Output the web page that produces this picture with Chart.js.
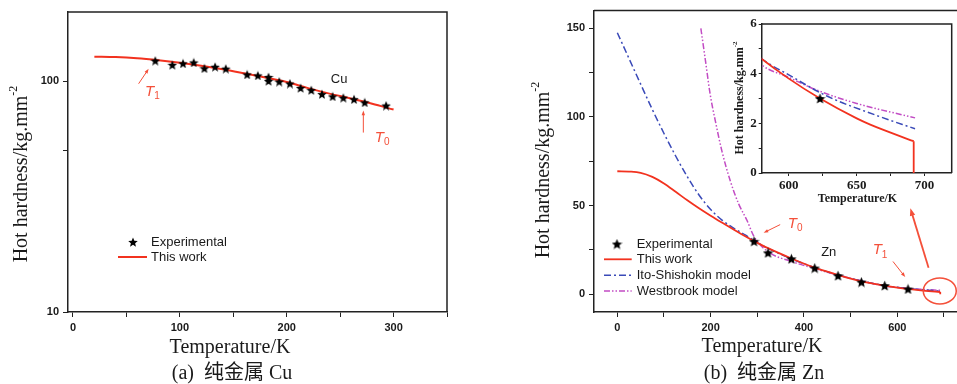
<!DOCTYPE html>
<html lang="en">
<head>
<meta charset="UTF-8" />
<title>Hot hardness of pure Cu and Zn</title>
<script src="https://cdn.jsdelivr.net/npm/chart.js@4.4.1/dist/chart.umd.min.js"></script>
<style>
  html, body { margin: 0; padding: 0; background: #fff; overflow: hidden; width: 957px; height: 384px; }
  canvas { position: absolute; }
  #cuChart { left: 0; top: 0; }
  #znChart { left: 480px; top: 0; }
  #insetChart { left: 725px; top: 14px; }
</style>
</head>
<body>
<canvas id="cuChart" width="480" height="384"></canvas>
<canvas id="znChart" width="500" height="384"></canvas>
<canvas id="insetChart" width="232" height="200"></canvas>
<script>
// ---- panel (a): pure Cu ----
const cuExpT = [77, 93, 103, 113, 123, 133, 143, 163, 173, 183, 183, 193, 203, 213, 223, 233, 243, 253, 263, 273, 293];
const cuExpH = [123, 118, 119.7, 120.8, 114, 115.7, 113.6, 107.2, 106.1, 104.5, 100.5, 99.8, 97.9, 93.7, 91.7, 88.1, 86.1, 85, 83.7, 81.1, 78.6];
const cuModelT = [20, 40, 60, 80, 100, 120, 140, 160, 180, 200, 220, 240, 260, 280, 300];
const cuModelH = [128, 127.5, 126, 123.5, 120.5, 117, 113, 108.5, 104, 99.5, 93.5, 88.5, 84.3, 80, 75.5];
const cuXTicks = [0, 50, 100, 150, 200, 250, 300, 350];
const cuYTicks = [10, 50, 100];

// ---- panel (b): pure Zn ----
const znExpT = [293, 323, 373, 423, 473, 523, 573, 623];
const znExpH = [29.9, 23.4, 20, 14.8, 10.5, 6.9, 4.9, 3.0];
// "This work" curve; the last two points are the vertical drop at melting
const znModelT = [0, 25, 50, 75, 100, 125, 150, 175, 200, 225, 250, 275, 293, 323, 373, 423, 473, 523, 573, 600, 623, 650, 660, 692, 692];
const znModelH = [69.4, 69.2, 68.5, 66.2, 62.5, 57.8, 53, 48.5, 44.3, 40.3, 36.4, 32.6, 30, 26, 20.2, 15, 10.9, 7.3, 4.9, 3.8, 3.0, 2.2, 1.95, 1.28, 0];
const itoT = [0, 25, 50, 75, 100, 125, 150, 175, 200, 225, 250, 275, 293, 323, 373, 423, 473, 523, 580, 600, 628, 665, 693];
const itoH = [147.5, 133, 118.5, 104.2, 90.7, 78, 66.3, 56, 47.8, 41.7, 37.2, 33.3, 30.3, 25.9, 20, 15, 10.9, 7.5, 4.6, 3.95, 3.1, 2.31, 1.78];
const westT = [179, 189, 199, 210, 224, 242, 260, 278, 293, 323, 373, 423, 473, 523, 580, 600, 620, 650, 693];
const westH = [150, 131.5, 112.7, 97.8, 80.9, 64, 51, 41.6, 32.5, 24, 18.5, 14.5, 10.8, 7.6, 4.35, 3.85, 3.35, 2.8, 2.22];
const znXTicks = [0, 100, 200, 300, 400, 500, 600, 700];
const znYTicks = [0, 25, 50, 75, 100, 125, 150];
const insetXTicks = [600, 625, 650, 675, 700];
const insetYTicks = [0, 1, 2, 3, 4, 5, 6];

const RED = '#f2321f';
const RED_NOTE = '#f4503a';
const BLUE = '#3a4ab8';
const MAGENTA = '#c24cc4';
const INK = '#1a1a1a';
const SANS = '"Liberation Sans", Arial, sans-serif';
const SERIF = '"Liberation Serif", "Times New Roman", "Noto Sans CJK SC", serif';

const pts = (xs, ys) => xs.map((x, i) => ({ x, y: ys[i] }));

function makeStar(size) {
  const c = document.createElement('canvas');
  c.width = c.height = size;
  const g = c.getContext('2d');
  const R = size / 2, r = R * 0.45;
  g.beginPath();
  for (let i = 0; i < 10; i++) {
    const a = -Math.PI / 2 + i * Math.PI / 5;
    const rad = i % 2 ? r : R;
    g.lineTo(R + rad * Math.cos(a), R + 0.6 + rad * Math.sin(a));
  }
  g.closePath();
  g.fillStyle = '#000';
  g.fill();
  return c;
}
const starA = makeStar(10);
const starB = makeStar(11);

function makeScale(o) {
  return {
    type: o.type || 'linear',
    min: o.min, max: o.max,
    afterBuildTicks: s => { s.ticks = o.ticks.map(v => ({ value: v })); },
    afterFit: s => { if (s.isHorizontal()) s.height = o.size; else s.width = o.size; },
    ticks: {
      autoSkip: false, maxRotation: 0, padding: o.pad, color: INK, font: o.font,
      callback: v => (o.label(v) ? String(v) : '')
    },
    grid: { drawOnChartArea: false, drawTicks: true, tickLength: o.tick, color: '#222', lineWidth: 1 },
    border: { display: true, color: '#222', width: 1.5 }
  };
}

function frameTopRight(ctx, a) {
  ctx.save();
  ctx.strokeStyle = '#222';
  ctx.lineWidth = 1.5;
  ctx.beginPath();
  ctx.moveTo(a.left, a.top);
  ctx.lineTo(a.right, a.top);
  ctx.lineTo(a.right, a.bottom);
  ctx.stroke();
  ctx.restore();
}

function label(ctx, txt, x, y, font, color, align) {
  ctx.save();
  ctx.font = font;
  ctx.fillStyle = color;
  ctx.textAlign = align || 'center';
  ctx.textBaseline = 'middle';
  ctx.fillText(txt, x, y);
  ctx.restore();
}

function tLabel(ctx, sub, x, y) {
  ctx.save();
  ctx.fillStyle = RED_NOTE;
  ctx.textBaseline = 'middle';
  ctx.font = 'italic 15px ' + SANS;
  const w = ctx.measureText('T').width;
  ctx.fillText('T', x - 6, y);
  ctx.font = '10px ' + SANS;
  ctx.fillText(sub, x - 6 + w, y + 5);
  ctx.restore();
}

function arrow(ctx, x1, y1, x2, y2, lw, head) {
  const ang = Math.atan2(y2 - y1, x2 - x1);
  ctx.save();
  ctx.strokeStyle = RED_NOTE;
  ctx.fillStyle = RED_NOTE;
  ctx.lineWidth = lw;
  ctx.beginPath();
  ctx.moveTo(x1, y1);
  ctx.lineTo(x2 - Math.cos(ang) * head * 0.7, y2 - Math.sin(ang) * head * 0.7);
  ctx.stroke();
  ctx.beginPath();
  ctx.moveTo(x2, y2);
  ctx.lineTo(x2 - head * Math.cos(ang - 0.35), y2 - head * Math.sin(ang - 0.35));
  ctx.lineTo(x2 - head * Math.cos(ang + 0.35), y2 - head * Math.sin(ang + 0.35));
  ctx.closePath();
  ctx.fill();
  ctx.restore();
}

function yTitle(ctx, cx, cy, size, bold) {
  const w0 = bold ? 'bold ' : '';
  const main = 'Hot hardness/kg.mm';
  ctx.save();
  ctx.translate(cx, cy);
  ctx.rotate(-Math.PI / 2);
  ctx.fillStyle = INK;
  ctx.textBaseline = 'middle';
  ctx.font = w0 + size + 'px ' + SERIF;
  const w1 = ctx.measureText(main).width;
  ctx.font = w0 + Math.round(size * 0.6) + 'px ' + SERIF;
  const w2 = ctx.measureText('-2').width;
  const x0 = -(w1 + w2) / 2;
  ctx.font = w0 + size + 'px ' + SERIF;
  ctx.fillText(main, x0, 0);
  ctx.font = w0 + Math.round(size * 0.6) + 'px ' + SERIF;
  ctx.fillText('-2', x0 + w1, -size * 0.4);
  ctx.restore();
}

function legendLine(ctx, x1, x2, y, color, dash, lw) {
  ctx.save();
  ctx.strokeStyle = color;
  ctx.lineWidth = lw;
  ctx.setLineDash(dash);
  ctx.beginPath();
  ctx.moveTo(x1, y);
  ctx.lineTo(x2, y);
  ctx.stroke();
  ctx.restore();
}

const tickFont = { family: SANS, size: 11, weight: 'bold' };
const insetFont = { family: SERIF, size: 13, weight: 'bold' };
const legendFont = '13px ' + SANS;

// ---- chart (a) ----
const cuDecor = {
  id: 'cuDecor',
  afterDraw(chart) {
    const { ctx, chartArea: a, scales: { x, y } } = chart;
    frameTopRight(ctx, a);
    label(ctx, 'Cu', x.getPixelForValue(249), y.getPixelForValue(102.5), '13px ' + SANS, INK);
    tLabel(ctx, '1', x.getPixelForValue(73), y.getPixelForValue(90.5));
    arrow(ctx, x.getPixelForValue(61.4), y.getPixelForValue(97.7), x.getPixelForValue(70.8), y.getPixelForValue(113.4), 1, 5);
    tLabel(ctx, '0', x.getPixelForValue(288), y.getPixelForValue(57.2));
    arrow(ctx, x.getPixelForValue(271.7), y.getPixelForValue(60), x.getPixelForValue(271.7), y.getPixelForValue(74.7), 1, 5);
    // legend
    ctx.drawImage(starA, 133 - 5, 242 - 5);
    label(ctx, 'Experimental', 151, 242, legendFont, INK, 'left');
    legendLine(ctx, 118, 147, 257, RED, [], 2);
    label(ctx, 'This work', 151, 257, legendFont, INK, 'left');
    yTitle(ctx, 22, 174, 20, false);
    label(ctx, 'Temperature/K', 230, 348, '20px ' + SERIF, INK);
    label(ctx, '(a)  纯金属 Cu', 232, 374, '20px ' + SERIF, INK);
  }
};

new Chart(document.getElementById('cuChart'), {
  type: 'scatter',
  data: {
    datasets: [
      { label: 'Experimental', data: pts(cuExpT, cuExpH), pointStyle: starA, pointRadius: 4 },
      { label: 'This work', data: pts(cuModelT, cuModelH), showLine: true, borderColor: RED, borderWidth: 2,
        pointRadius: 0, cubicInterpolationMode: 'monotone' }
    ]
  },
  options: {
    responsive: false, animation: false, devicePixelRatio: 1,
    layout: { autoPadding: false, padding: { left: 28, right: 33, top: 12, bottom: 42 } },
    plugins: { legend: { display: false }, tooltip: { enabled: false } },
    scales: {
      x: makeScale({ min: -4.67, max: 350, ticks: cuXTicks, label: v => v % 100 === 0, size: 30, pad: 4, tick: 5, font: tickFont }),
      y: makeScale({ type: 'logarithmic', min: 10, max: 200, ticks: cuYTicks, label: v => v === 10 || v === 100, size: 40, pad: 4, tick: 5, font: tickFont })
    }
  },
  plugins: [cuDecor]
});

// ---- chart (b) ----
const znDecor = {
  id: 'znDecor',
  afterDraw(chart) {
    const { ctx, chartArea: a, scales: { x, y } } = chart;
    frameTopRight(ctx, a);
    label(ctx, 'Zn', x.getPixelForValue(453), y.getPixelForValue(23.4), '13px ' + SANS, INK);
    tLabel(ctx, '0', x.getPixelForValue(378), y.getPixelForValue(40));
    arrow(ctx, x.getPixelForValue(349), y.getPixelForValue(39.3), x.getPixelForValue(313.5), y.getPixelForValue(34.7), 1, 5);
    tLabel(ctx, '1', x.getPixelForValue(560), y.getPixelForValue(25.1));
    arrow(ctx, x.getPixelForValue(590.7), y.getPixelForValue(18.5), x.getPixelForValue(617), y.getPixelForValue(9.7), 1, 5);
    ctx.save();
    ctx.strokeStyle = RED_NOTE;
    ctx.lineWidth = 1.5;
    ctx.beginPath();
    ctx.ellipse(x.getPixelForValue(691), y.getPixelForValue(1.9), 16.5, 13, 0, 0, Math.PI * 2);
    ctx.stroke();
    ctx.restore();
    arrow(ctx, x.getPixelForValue(667), y.getPixelForValue(15), x.getPixelForValue(628), y.getPixelForValue(48.5), 1.8, 8);
    // legend
    ctx.drawImage(starB, 137 - 5.5, 244 - 5.5);
    label(ctx, 'Experimental', 156.7, 244, legendFont, INK, 'left');
    legendLine(ctx, 124, 151.7, 259.3, RED, [], 1.8);
    label(ctx, 'This work', 156.7, 259.3, legendFont, INK, 'left');
    legendLine(ctx, 124, 151.7, 275.3, BLUE, [7, 3, 2, 3], 1.5);
    label(ctx, 'Ito-Shishokin model', 156.7, 275.3, legendFont, INK, 'left');
    legendLine(ctx, 124, 151.7, 291, MAGENTA, [6, 2, 1.5, 2, 1.5, 2], 1.5);
    label(ctx, 'Westbrook model', 156.7, 291, legendFont, INK, 'left');
    yTitle(ctx, 64, 170, 20, false);
    label(ctx, 'Temperature/K', 282, 347, '20px ' + SERIF, INK);
    label(ctx, '(b)  纯金属 Zn', 284, 374, '20px ' + SERIF, INK);
  }
};

function znDatasets(star, lw) {
  const n = znModelT.length;
  const curve = pts(znModelT, znModelH);
  return [
    { label: 'Experimental', data: pts(znExpT, znExpH), pointStyle: star, pointRadius: 4 },
    { label: 'This work', data: curve.slice(0, n - 1), showLine: true, borderColor: RED, borderWidth: lw,
      pointRadius: 0, cubicInterpolationMode: 'monotone' },
    { label: 'This work (melt)', data: curve.slice(n - 2), showLine: true, borderColor: RED, borderWidth: lw,
      pointRadius: 0, tension: 0 },
    { label: 'Ito-Shishokin model', data: pts(itoT, itoH), showLine: true, borderColor: BLUE, borderWidth: 1.5,
      borderDash: [7, 3, 2, 3], pointRadius: 0, cubicInterpolationMode: 'monotone' },
    { label: 'Westbrook model', data: pts(westT, westH), showLine: true, borderColor: MAGENTA, borderWidth: 1.5,
      borderDash: [6, 2, 1.5, 2, 1.5, 2], pointRadius: 0, cubicInterpolationMode: 'monotone' }
  ];
}

new Chart(document.getElementById('znChart'), {
  type: 'scatter',
  data: { datasets: znDatasets(starB, 1.8) },
  options: {
    responsive: false, animation: false, devicePixelRatio: 1,
    layout: { autoPadding: false, padding: { left: 74, right: 12.7, top: 10, bottom: 42 } },
    plugins: { legend: { display: false }, tooltip: { enabled: false } },
    scales: {
      x: makeScale({ min: -50, max: 750, ticks: znXTicks, label: v => v % 200 === 0, size: 30, pad: 4, tick: 5, font: tickFont }),
      y: makeScale({ min: -10, max: 160, ticks: znYTicks, label: v => v % 50 === 0, size: 40, pad: 4, tick: 5, font: tickFont })
    }
  },
  plugins: [znDecor]
});

// ---- inset of (b) ----
const insetDecor = {
  id: 'insetDecor',
  beforeDraw(chart) {
    const { ctx, chartArea: a } = chart;
    ctx.save();
    ctx.fillStyle = '#fff';
    ctx.fillRect(a.left, a.top, a.right - a.left, a.bottom - a.top);
    ctx.restore();
  },
  afterDraw(chart) {
    const { ctx, chartArea: a } = chart;
    frameTopRight(ctx, a);
    yTitle(ctx, 15, 84, 12, true);
    label(ctx, 'Temperature/K', 132.5, 185, 'bold 12px ' + SERIF, INK);
  }
};

new Chart(document.getElementById('insetChart'), {
  type: 'scatter',
  data: { datasets: znDatasets(starB, 1.8) },
  options: {
    responsive: false, animation: false, devicePixelRatio: 1,
    layout: { autoPadding: false, padding: { left: 0, right: 5.3, top: 10, bottom: 16 } },
    plugins: { legend: { display: false }, tooltip: { enabled: false } },
    scales: {
      x: makeScale({ min: 580, max: 720, ticks: insetXTicks, label: v => v % 50 === 0, size: 25, pad: 2, tick: 3, font: insetFont }),
      y: makeScale({ min: 0, max: 6, ticks: insetYTicks, label: v => v % 2 === 0, size: 36.7, pad: 2, tick: 3, font: insetFont })
    }
  },
  plugins: [insetDecor]
});
</script>
</body>
</html>
